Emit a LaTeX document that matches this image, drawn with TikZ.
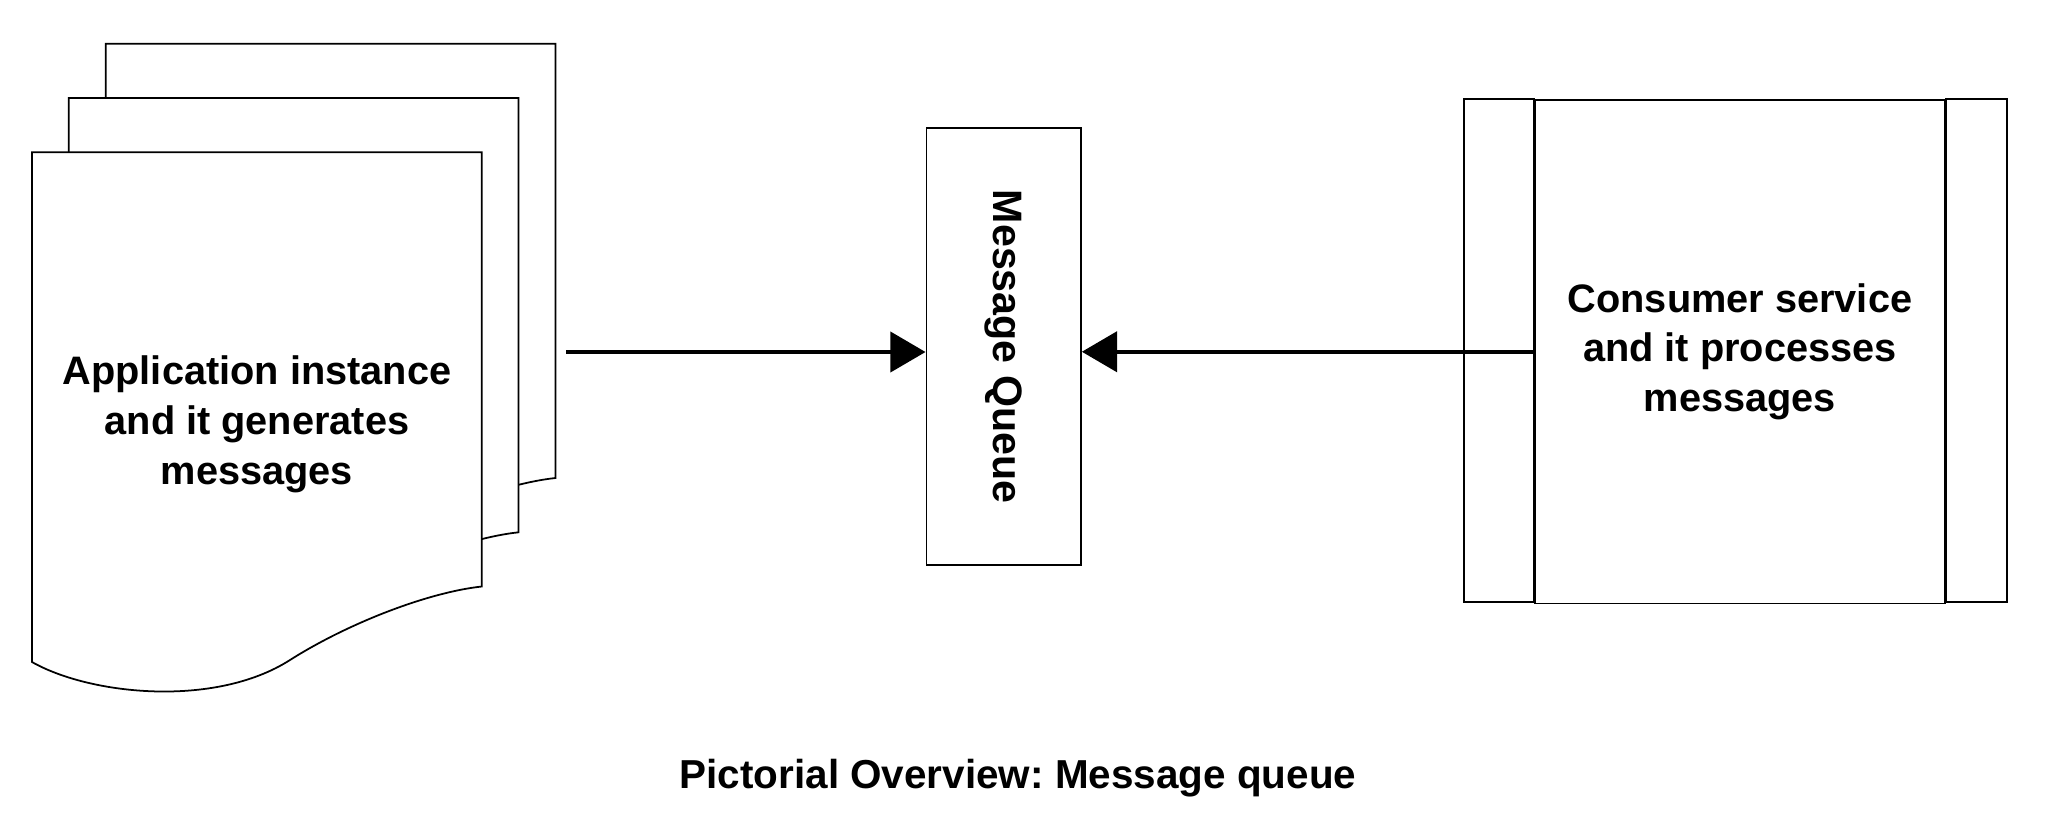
\documentclass[tikz,border=0pt]{standalone}
\usepackage{fontspec}
\setmainfont{Liberation Sans}
\usetikzlibrary{arrows.meta}
\frenchspacing

\begin{document}
\begin{tikzpicture}[x=0.01cm,y=-0.01cm,
        page/.style={draw,fill=white,line width=0.5pt},
        box/.style={draw,line width=0.5pt,inner sep=0pt},
        arr/.style={line width=1.1pt,-{Triangle[length=10pt,width=11.4pt]}},
        txt/.style={font=\fontsize{11.3}{14.2}\selectfont\bfseries,align=center}]
    \useasboundingbox (0,0) rectangle (2045,827);
    % stack of pages, back one first
    \foreach \dx/\dy in {73.7/-108.5,36.8/-54.2,0/0}{
        \draw[page,shift={(\dx,\dy)}] (32,152.2)--(481.8,152.2)--(481.8,586.5)
            .. controls (430,592) and (350,622) .. (290,660)
            .. controls (215,708) and (90,695) .. (32,662)--cycle;
    }
    \node[txt] (app) at (257,424) {Application instance\\and it generates\\messages};

    \node[box,minimum width=1.545cm,minimum height=4.37cm] (queue) at (1003.7,346.5) {};
    \node[rotate=-90,font=\fontsize{11.7}{14}\selectfont\bfseries] (qtext) at (queue.center) {Message Queue};

    \node[box,txt,minimum width=4.1cm,minimum height=5.03cm] (cons) at (1740,351.75) {Consumer service\\and it processes\\messages};
    \draw[line width=0.5pt] (cons.north west) rectangle ++(-70,503.1);
    \draw[line width=0.5pt] (cons.north east) rectangle ++(61.3,503.1);

    \coordinate (appout) at (566,352);
    \draw[arr] (appout)--(appout -| queue.west);
    \draw[arr] (cons.west)--(cons.west -| queue.east);

    \node[anchor=base,font=\fontsize{11.5}{14}\selectfont\bfseries] (caption) at (1018,788.7) {Pictorial Overview: Message queue};
\end{tikzpicture}
\end{document}
